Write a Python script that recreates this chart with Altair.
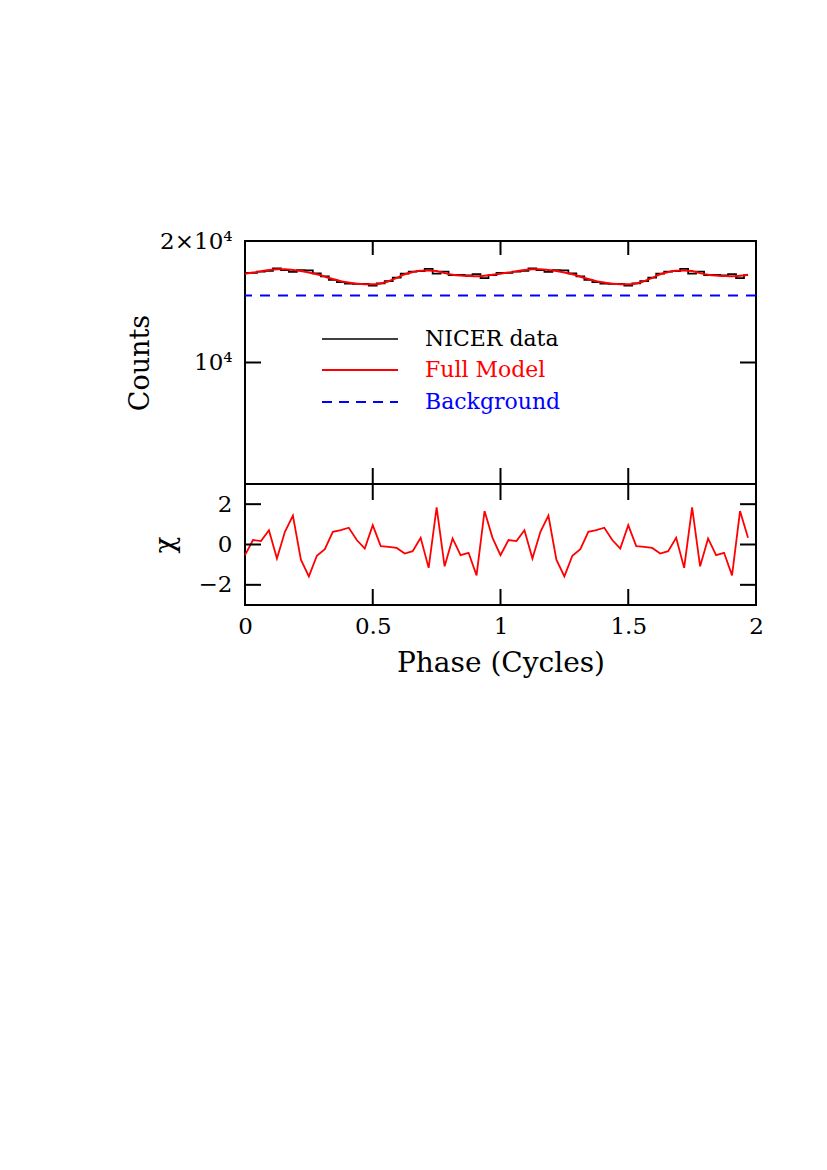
import altair as alt
import pandas as pd

# ---- values (one cycle, 32 phase bins; plot shows two cycles) ----
model_cycle = [16600, 16700, 16820, 16950, 17020, 17020, 16950, 16850,
               16720, 16550, 16320, 16100, 15900, 15780, 15680, 15630,
               15620, 15700, 15900, 16200, 16550, 16750, 16880, 16900,
               16850, 16650, 16500, 16420, 16380, 16350, 16400, 16500]
data_cycle = [16670, 16670, 16800, 16860, 17110, 16940, 16770, 16950,
              16920, 16620, 16350, 16020, 15810, 15670, 15650, 15660,
              15500, 15710, 15915, 16220, 16610, 16790, 16840, 17050,
              16610, 16790, 16460, 16490, 16430, 16550, 16190, 16460]
chi_cycle = [-0.53, 0.22, 0.17, 0.71, -0.70, 0.63, 1.43, -0.75,
             -1.58, -0.56, -0.23, 0.63, 0.71, 0.83, 0.22, -0.20,
             0.96, -0.08, -0.12, -0.17, -0.45, -0.33, 0.33, -1.16,
             1.84, -1.08, 0.30, -0.53, -0.41, -1.53, 1.66, 0.33]
background = [14650]
n_bins = 32
n_cycles = 2

x_ticks = [0.5, 1.0, 1.5]
x_labels = [0, 0.5, 1, 1.5, 2]
top_y_ticks = [10000, 20000]
chi_ticks = [-2, 0, 2]
legend_labels = ["NICER data", "Full Model", "Background"]
legend_colors = ["black", "#ff0000", "#0000ff"]

phase = [(c * n_bins + i) / n_bins for c in range(n_cycles) for i in range(n_bins)]
df = pd.DataFrame({
    "phase": phase,
    "data": data_cycle * n_cycles,
    "model": model_cycle * n_cycles,
    "chi": chi_cycle * n_cycles,
})
df_bg = pd.DataFrame({"bg": background})
df_xt = pd.DataFrame({"phase": x_ticks})
df_yt = pd.DataFrame({"data": top_y_ticks})
df_ct = pd.DataFrame({"chi": chi_ticks})

W, H1, H2 = 511, 243, 121
TL = 16  # inward tick length
FONT = "DejaVu Serif"

x_scale = alt.Scale(domain=[0, 2], nice=False, zero=False)
ytop_scale = alt.Scale(type="log", domain=[5000, 20000], nice=False)
chi_scale = alt.Scale(domain=[-3, 3], nice=False)

top_y_axis = alt.Axis(values=top_y_ticks, grid=False, ticks=False, domain=False,
                      labelExpr="datum.value == 10000 ? '10⁴' : '2×10⁴'",
                      labelPadding=13, title="Counts", titleX=-105, titleY=H1 / 2,
                      titleBaseline="middle", titleAlign="center", titleAngle=-90,
                      titleFontSize=27)
bot_x_axis = alt.Axis(values=x_labels, format="~g", grid=False, ticks=False,
                      domain=False, labelFlush=False, labelOverlap=False, labelPadding=10,
                      title="Phase (Cycles)", titleY=58, titleBaseline="middle",
                      titleFontSize=28)
chi_axis = alt.Axis(values=chi_ticks, grid=False, ticks=False, domain=False,
                    labelPadding=13, title="χ", titleX=-80, titleY=H2 / 2,
                    titleBaseline="middle", titleAlign="center", titleAngle=-90,
                    titleFontSize=28)


def tx(field="phase"):
    return alt.X(f"{field}:Q", scale=x_scale, axis=None)


def ty(field):
    return alt.Y(f"{field}:Q", scale=ytop_scale, axis=top_y_axis, title="Counts")


def bx():
    return alt.X("phase:Q", scale=x_scale, axis=bot_x_axis, title="Phase (Cycles)")


def by():
    return alt.Y("chi:Q", scale=chi_scale, axis=chi_axis, title="χ")


# ---------------- top panel ----------------
data_line = alt.Chart(df).mark_line(color="black", strokeWidth=1.7, interpolate="step").encode(
    x=tx(), y=ty("data"))
model_line = alt.Chart(df).mark_line(color="#ff0000", strokeWidth=2, interpolate="monotone").encode(
    x=tx(), y=ty("model"))
bg_line = alt.Chart(df_bg).mark_rule(color="#0000ff", strokeWidth=2, strokeDash=[10, 8]).encode(
    y=ty("bg"))
top_xt_top = alt.Chart(df_xt).mark_rule(color="black", strokeWidth=2).encode(
    x=tx(), y=alt.value(0), y2=alt.value(TL - 2))
top_xt_bot = alt.Chart(df_xt).mark_rule(color="black", strokeWidth=2).encode(
    x=tx(), y=alt.value(H1 - TL), y2=alt.value(H1))
top_yt_l = alt.Chart(df_yt).mark_rule(color="black", strokeWidth=2).encode(
    y=ty("data"), x=alt.value(0), x2=alt.value(TL))
top_yt_r = alt.Chart(df_yt).mark_rule(color="black", strokeWidth=2).encode(
    y=ty("data"), x=alt.value(W - TL), x2=alt.value(W))

# legend (decoration)
leg_y = [98, 129, 161]
leg_layers = []
for lab, col, ly, dash in zip(legend_labels, legend_colors, leg_y, [None, None, [10, 7]]):
    kw = dict(color=col, strokeWidth=1.7 if col == "black" else 2)
    if dash:
        kw["strokeDash"] = dash
    leg_layers.append(
        alt.Chart(pd.DataFrame({"lab": [lab]})).mark_rule(**kw).encode(
            x=alt.value(77), x2=alt.value(153), y=alt.value(ly)))
    leg_layers.append(
        alt.Chart(pd.DataFrame({"lab": [lab]})).mark_text(
            font=FONT, fontSize=22, color=col, align="left", baseline="middle").encode(
            x=alt.value(180), y=alt.value(ly), text="lab:N"))

top = alt.layer(bg_line, data_line, model_line, top_xt_top, top_xt_bot, top_yt_l, top_yt_r,
                *leg_layers).properties(width=W, height=H1)

# ---------------- bottom panel ----------------
chi_line = alt.Chart(df).mark_line(color="#ff0000", strokeWidth=1.8).encode(x=bx(), y=by())
bot_xt_top = alt.Chart(df_xt).mark_rule(color="black", strokeWidth=2).encode(
    x=bx(), y=alt.value(0), y2=alt.value(TL))
bot_xt_bot = alt.Chart(df_xt).mark_rule(color="black", strokeWidth=2).encode(
    x=bx(), y=alt.value(H2 - TL), y2=alt.value(H2))
bot_yt_l = alt.Chart(df_ct).mark_rule(color="black", strokeWidth=2).encode(
    y=by(), x=alt.value(0), x2=alt.value(TL))
bot_yt_r = alt.Chart(df_ct).mark_rule(color="black", strokeWidth=2).encode(
    y=by(), x=alt.value(W - TL), x2=alt.value(W))

bottom = alt.layer(chi_line, bot_xt_top, bot_xt_bot, bot_yt_l, bot_yt_r).properties(width=W, height=H2)

chart = alt.vconcat(top, bottom, spacing=0, bounds="flush").resolve_scale(x="shared").properties(
    padding={"left": 116, "top": 221, "right": 20, "bottom": 20},
    background="white",
).configure_view(
    stroke="black", strokeWidth=2
).configure_axis(
    labelFont=FONT, titleFont=FONT, labelFontSize=23, titleFontSize=27,
    labelColor="black", titleColor="black", titleFontWeight="normal",
)

chart.save("out.html", embed_options={"renderer": "svg", "actions": False})
